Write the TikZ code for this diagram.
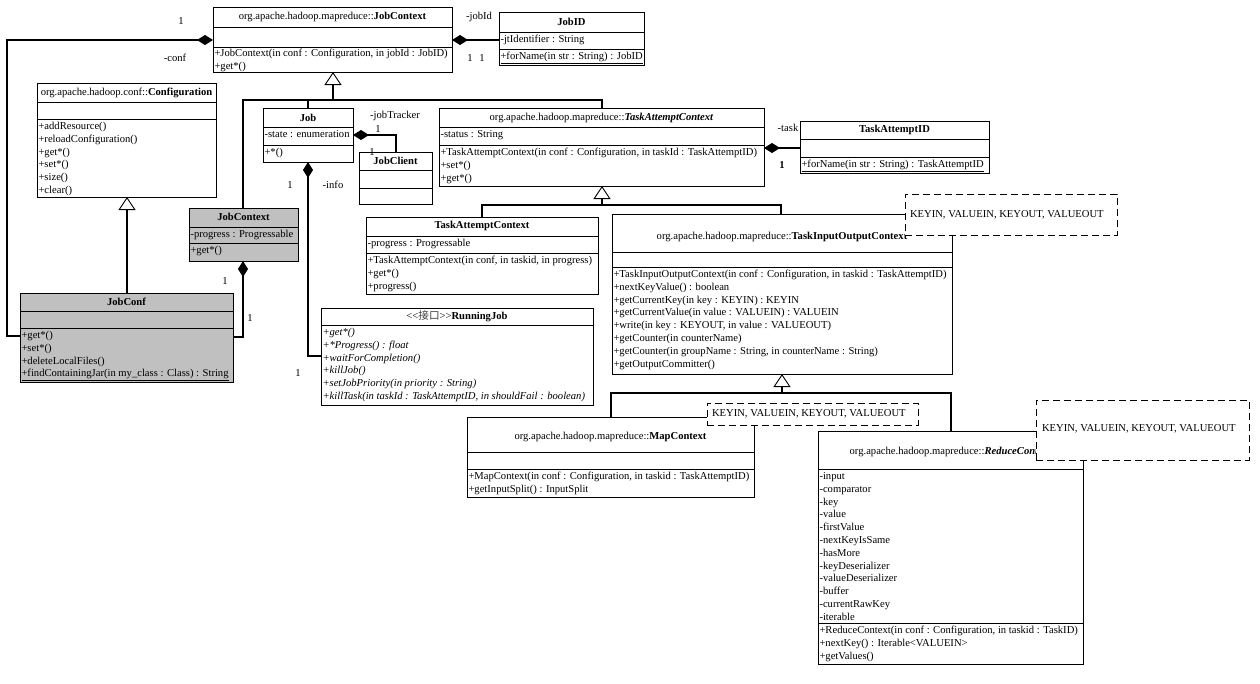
\documentclass[tikz,border=0pt]{standalone}
\usepackage{fontspec}
\setmainfont{Liberation Serif}
\newfontfamily\cjk{Noto Sans CJK SC}
\usetikzlibrary{arrows.meta}
\definecolor{boxgray}{RGB}{192,192,192}
\newcommand\umlfont{\fontsize{10.6}{12.8}\selectfont}
\tikzset{
  cls/.style={draw, line width=0.8pt, inner sep=0pt, outer sep=0pt, anchor=north west, fill=white},
  gcls/.style={cls, fill=boxgray},
  txt/.style={inner sep=0pt, outer sep=0pt, anchor=north west, align=left, font=\umlfont},
  ttl/.style={inner sep=0pt, outer sep=0pt, anchor=center, font=\umlfont},
  lbl/.style={inner sep=0pt, outer sep=0pt, anchor=center, font=\umlfont},
  sepline/.style={line width=0.8pt},
  conn/.style={line width=1.1pt},
  comp/.style={conn, {Diamond[length=16pt,width=10pt]}-},
  gen/.style={conn, -{Triangle[open,fill=white,length=13pt,width=17pt,line width=0.9pt]}},
  note/.style={draw, dash pattern=on 7pt off 4pt, line width=0.9pt, fill=white, inner sep=0pt, outer sep=0pt, anchor=north west},
}
\newcommand\umlbox[6][cls]{\node[#1, minimum width={(#5-#3)*1pt}, minimum height={(#6-#4)*1pt}] (#2) at (#3,#4) {};}
\newcommand\hsepl[3]{\draw[sepline] (#1,#3) -- (#2,#3);}
\newcommand\compart[5][]{\node[txt,#1] (#2) at (#3+1.5,#4+1.5) {\strut #5};}
\begin{document}
\begin{tikzpicture}[x=1pt,y=-1pt]
\useasboundingbox (0,0) rectangle (1260,683);
\fill[white] (0,0) rectangle (1260,683);

% ---------- JobContext (top)
\umlbox{jc}{213}{7}{452}{72}
\hsepl{213}{452}{27}\hsepl{213}{452}{47}
\node[ttl] (jct) at (332.5,17) {org.apache.hadoop.mapreduce::\textbf{JobContext}};
\compart{jcm}{213}{46}{+JobContext(in conf : Configuration, in jobId : JobID)\\+get*()}

% ---------- JobID
\umlbox{jid}{499}{12}{644}{65}
\hsepl{499}{644}{32}\hsepl{499}{644}{49}
\node[ttl] (jidt) at (571.5,22) {\textbf{JobID}};
\compart{jida}{499}{32}{-jtIdentifier : String}
\compart{jidm}{499}{49}{\underline{+forName(in str : String) : JobID}}

% ---------- Configuration
\umlbox{cfg}{37}{83}{216}{197}
\hsepl{37}{216}{102}\hsepl{37}{216}{119}
\node[ttl] (cfgt) at (126.5,92.5) {org.apache.hadoop.conf::\textbf{Configuration}};
\compart{cfgm}{37}{119}{+addResource()\\+reloadConfiguration()\\+get*()\\+set*()\\+size()\\+clear()}

% ---------- JobConf (gray)
\umlbox[gcls]{jcf}{20}{293}{233}{382}
\hsepl{20}{233}{311}\hsepl{20}{233}{328}
\node[ttl] (jcft) at (126.5,302) {\textbf{JobConf}};
\compart{jcfm}{20}{328}{+get*()\\+set*()\\+deleteLocalFiles()\\\underline{+findContainingJar(in my\_class : Class) : String}}

% ---------- JobContext (gray)
\umlbox[gcls]{gjc}{189}{208}{298}{261}
\hsepl{189}{298}{227}\hsepl{189}{298}{243}
\node[ttl] (gjct) at (243.5,217) {\textbf{JobContext}};
\compart{gjca}{189}{227}{-progress : Progressable}
\compart{gjcm}{189}{243}{+get*()}

% ---------- Job
\umlbox{job}{263}{108}{353}{162}
\hsepl{263}{353}{127}\hsepl{263}{353}{145}
\node[ttl] (jobt) at (308,117.5) {\textbf{Job}};
\compart{joba}{263}{127}{-state : enumeration}
\compart{jobm}{263}{145}{+*()}

% ---------- JobClient
\umlbox{jcl}{359}{152}{432}{204}
\hsepl{359}{432}{170}\hsepl{359}{432}{188}
\node[ttl] (jclt) at (395.5,161) {\textbf{JobClient}};

% ---------- TaskAttemptContext (abstract)
\umlbox{tac}{439}{108}{764}{186}
\hsepl{439}{764}{127}\hsepl{439}{764}{145}
\node[ttl] (tact) at (601.5,117.5) {org.apache.hadoop.mapreduce::\textbf{\textit{TaskAttemptContext}}};
\compart{taca}{439}{127}{-status : String}
\compart{tacm}{439}{145}{+TaskAttemptContext(in conf : Configuration, in taskId : TaskAttemptID)\\+set*()\\+get*()}

% ---------- TaskAttemptID
\umlbox{taid}{800}{121}{989}{173}
\hsepl{800}{989}{139}\hsepl{800}{989}{157}
\node[ttl] (taidt) at (894.5,130) {\textbf{TaskAttemptID}};
\compart{taidm}{800}{157}{\underline{+forName(in str : String) : TaskAttemptID}}

% ---------- TaskAttemptContext (concrete)
\umlbox{tac2}{366}{217}{598}{294}
\hsepl{366}{598}{236}\hsepl{366}{598}{253}
\node[ttl] (tac2t) at (482,226) {\textbf{TaskAttemptContext}};
\compart{tac2a}{366}{236}{-progress : Progressable}
\compart{tac2m}{366}{253}{+TaskAttemptContext(in conf, in taskid, in progress)\\+get*()\\+progress()}

% ---------- RunningJob
\umlbox{rj}{321}{308}{593}{405}
\hsepl{321}{593}{325}
\node[ttl] (rjt) at (457,316.5) {<\kern0pt<{\cjk\color{black!75}接口}>\kern0pt>\textbf{RunningJob}};
\compart[font=\umlfont\itshape]{rjm}{321}{325}{+get*()\\+*Progress() : float\\+waitForCompletion()\\+killJob()\\+setJobPriority(in priority : String)\\+killTask(in taskId : TaskAttemptID, in shouldFail : boolean)}

% ---------- TaskInputOutputContext
\umlbox{tioc}{612}{214}{952}{374}
\hsepl{612}{952}{252}\hsepl{612}{952}{267}
\node[ttl] (tioct) at (782,237) {org.apache.hadoop.mapreduce::\textbf{TaskInputOutputContext}};
\compart{tiocm}{612}{267}{+TaskInputOutputContext(in conf : Configuration, in taskid : TaskAttemptID)\\+nextKeyValue() : boolean\\+getCurrentKey(in key : KEYIN) : KEYIN\\+getCurrentValue(in value : VALUEIN) : VALUEIN\\+write(in key : KEYOUT, in value : VALUEOUT)\\+getCounter(in counterName)\\+getCounter(in groupName : String, in counterName : String)\\+getOutputCommitter()}

% ---------- MapContext
\umlbox{mc}{467}{417}{754}{497}
\hsepl{467}{754}{452}\hsepl{467}{754}{469}
\node[ttl] (mct) at (610.5,437) {org.apache.hadoop.mapreduce::\textbf{MapContext}};
\compart{mcm}{467}{469}{+MapContext(in conf : Configuration, in taskid : TaskAttemptID)\\+getInputSplit() : InputSplit}

% ---------- ReduceContext
\umlbox{rc}{818}{431}{1083}{664}
\hsepl{818}{1083}{469}\hsepl{818}{1083}{623}
\node[ttl] (rct) at (950.5,452) {org.apache.hadoop.mapreduce::\textbf{\textit{ReduceContext}}};
\compart{rca}{818}{469}{-input\\-comparator\\-key\\-value\\-firstValue\\-nextKeyIsSame\\-hasMore\\-keyDeserializer\\-valueDeserializer\\-buffer\\-currentRawKey\\-iterable}
\compart{rcm}{818}{623}{+ReduceContext(in conf : Configuration, in taskid : TaskID)\\+nextKey() : Iterable<VALUEIN>\\+getValues()}

% ---------- template notes
\node[note, minimum width=212pt, minimum height=41pt] (n1) at (905,194) {};
\node[lbl, anchor=west] (n1t) at (910,214.5) {KEYIN, VALUEIN, KEYOUT, VALUEOUT};
\node[note, minimum width=211pt, minimum height=22pt] (n2) at (707,403) {};
\node[lbl, anchor=west] (n2t) at (712,414) {KEYIN, VALUEIN, KEYOUT, VALUEOUT};
\node[note, minimum width=213pt, minimum height=60pt] (n3) at (1036,400) {};
\node[lbl, anchor=west] (n3t) at (1042,429) {KEYIN, VALUEIN, KEYOUT, VALUEOUT};

% ---------- connectors
% JobContext -- JobID
\draw[comp] (jc.east |- 0,40) -- (jid.west |- 0,40);
\node[lbl] (ljid) at (479,17) {-jobId};
\node[lbl] (ljid1) at (470,58) {1};
\node[lbl] (ljid2) at (482,58) {1};
% JobContext -- JobConf (conf)
\draw[comp] (jc.west |- 0,40) -- (7,40) -- (7,336) -- (jcf.west |- 0,336);
\node[lbl] (lc1) at (181,21) {1};
\node[lbl] (lc2) at (175,58) {-conf};
% Configuration <|-- JobConf
\draw[gen] (jcf.north -| 127,0) -- (cfg.south -| 127,0);
% JobContext(gray) -- JobConf
\draw[comp] (gjc.south -| 243,0) -- (243,337) -- (jcf.east |- 0,337);
\node[lbl] (lg1) at (225,281) {1};
\node[lbl] (lg2) at (250,318) {1};
% JobContext <|-- Job, JobContext(gray), TaskAttemptContext
\draw[gen] (333,100) -- (jc.south -| 333,0);
\draw[conn] (gjc.north -| 243,0) -- (243,100) -- (602,100) -- (tac.north -| 602,0);
\draw[conn] (308,100) -- (job.north -| 308,0);
% Job -- JobClient
\draw[comp] (job.east |- 0,135) -- (396,135) -- (jcl.north -| 396,0);
\node[lbl] (ljt) at (395,116) {-jobTracker};
\node[lbl] (ljt1) at (378,129) {1};
\node[lbl] (ljt2) at (372,152) {1};
% Job -- RunningJob
\draw[comp] (job.south -| 308,0) -- (308,356) -- (rj.west |- 0,356);
\node[lbl] (li1) at (290,185) {1};
\node[lbl] (li2) at (333,185) {-info};
\node[lbl] (li3) at (298,373) {1};
% TaskAttemptContext -- TaskAttemptID
\draw[comp] (tac.east |- 0,148) -- (taid.west |- 0,148);
\node[lbl] (lt1) at (788,128) {-task};
\node[lbl] (lt2) at (782,165) {\textbf{1}};
% TaskAttemptContext <|-- TaskAttemptContext, TaskInputOutputContext
\draw[gen] (602,205) -- (tac.south -| 602,0);
\draw[conn] (tac2.north -| 482,0) -- (482,205) -- (781,205) -- (tioc.north -| 781,0);
% TaskInputOutputContext <|-- MapContext, ReduceContext
\draw[gen] (782,393) -- (tioc.south -| 782,0);
\draw[conn] (mc.north -| 611,0) -- (611,393) -- (951,393) -- (rc.north -| 951,0);
\end{tikzpicture}
\end{document}
